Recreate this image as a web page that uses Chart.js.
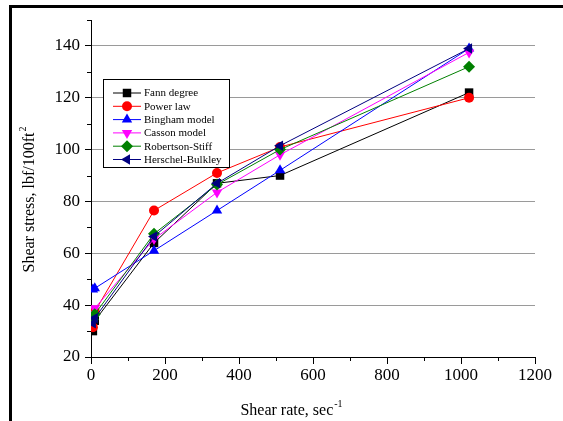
<!DOCTYPE html>
<html lang="en">
<head>
    <meta charset="UTF-8">
    <title>Shear stress vs shear rate</title>
    <script src="https://cdn.jsdelivr.net/npm/chart.js"></script>
    <style>
        html, body { margin: 0; padding: 0; background: #fff; }
        #wrap { position: relative; width: 563px; height: 421px; }
        #frame {
            position: absolute; left: 9px; top: 5px; right: 0; bottom: 0;
            border-left: 3px solid #000; border-top: 3px solid #000;
            pointer-events: none;
        }
    </style>
</head>
<body>
    <div id="wrap">
        <canvas id="rheoChart" width="563" height="421"></canvas>
        <div id="frame"></div>
    </div>

    <script>
        // shear rates (sec^-1) from the Fann speeds 3, 6, 100, 200, 300, 600 rpm
        const shearRates = [5.11, 10.22, 170.3, 340.6, 510.9, 1021.8];

        const fannDegree = [30, 34, 64, 87, 90, 122];
        const powerLaw = [31.5, 37.5, 76.5, 91, 101, 120];
        const bingham = [46, 46.5, 61, 76.5, 92, 139];
        const casson = [36.5, 38.8, 65.5, 83.5, 98, 137.5];
        const robertsonStiff = [34.5, 36.5, 67.5, 86.5, 100, 132];
        const herschelBulkley = [33, 35, 66.5, 87, 101.5, 139];

        const seriesNames = ['Fann degree', 'Power law', 'Bingham model', 'Casson model', 'Robertson-Stiff', 'Herschel-Bulkley'];
        const seriesValues = [fannDegree, powerLaw, bingham, casson, robertsonStiff, herschelBulkley];

        const xTicks = [0, 200, 400, 600, 800, 1000, 1200];
        const xMinorTicks = [100, 300, 500, 700, 900, 1100];
        const yTicks = [20, 40, 60, 80, 100, 120, 140];
        const yMinorTicks = [30, 50, 70, 90, 110, 130, 150];

        const colors = ['#000000', '#ff0000', '#0000ff', '#ff00ff', '#008000', '#000080'];
        const markers = [
            { style: 'rect', rotation: 0, radius: 6 },
            { style: 'circle', rotation: 0, radius: 5 },
            { style: 'triangle', rotation: 0, radius: 6 },
            { style: 'triangle', rotation: 180, radius: 6 },
            { style: 'rectRot', rotation: 0, radius: 6 },
            { style: 'triangle', rotation: 270, radius: 6 }
        ];

        const serif = '"Liberation Serif", "Times New Roman", serif';

        // small marker painter, used for the legend
        function drawMarker(ctx, m, color, x, y) {
            const r = m.radius;
            ctx.save();
            ctx.translate(x, y);
            ctx.rotate(m.rotation * Math.PI / 180);
            ctx.fillStyle = color;
            ctx.beginPath();
            if (m.style === 'circle') {
                ctx.arc(0, 0, r, 0, Math.PI * 2);
            } else if (m.style === 'rect') {
                const s = r * Math.SQRT1_2;
                ctx.rect(-s, -s, 2 * s, 2 * s);
            } else if (m.style === 'rectRot') {
                ctx.moveTo(0, -r); ctx.lineTo(r, 0); ctx.lineTo(0, r); ctx.lineTo(-r, 0);
                ctx.closePath();
            } else {
                // triangle pointing up before rotation
                const edge = 3 * r / Math.sqrt(3);
                const h = edge * Math.sqrt(3) / 2;
                ctx.moveTo(-edge / 2, h / 3);
                ctx.lineTo(edge / 2, h / 3);
                ctx.lineTo(0, -2 * h / 3);
                ctx.closePath();
            }
            ctx.fill();
            ctx.restore();
        }

        const extrasPlugin = {
            id: 'extras',
            afterDraw(chart) {
                const ctx = chart.ctx;
                const xs = chart.scales.x;
                const ys = chart.scales.y;
                const area = chart.chartArea;

                // minor ticks
                ctx.save();
                ctx.strokeStyle = '#000';
                ctx.lineWidth = 1;
                ctx.beginPath();
                xMinorTicks.forEach(v => {
                    const px = Math.round(xs.getPixelForValue(v)) + 0.5;
                    ctx.moveTo(px, area.bottom);
                    ctx.lineTo(px, area.bottom + 4);
                });
                yMinorTicks.forEach(v => {
                    const py = Math.round(ys.getPixelForValue(v)) + 0.5;
                    ctx.moveTo(area.left, py);
                    ctx.lineTo(area.left - 4, py);
                });
                ctx.stroke();
                ctx.restore();

                // axis titles with superscripts
                ctx.save();
                ctx.fillStyle = '#000';
                ctx.textBaseline = 'alphabetic';
                const xt = 'Shear rate, sec';
                const xsup = '-1';
                ctx.font = '16px ' + serif;
                const w1 = ctx.measureText(xt).width;
                ctx.font = '10px ' + serif;
                const w2 = ctx.measureText(xsup).width;
                let sx = 291 - (w1 + w2) / 2;
                ctx.font = '16px ' + serif;
                ctx.fillText(xt, sx, 415);
                ctx.font = '10px ' + serif;
                ctx.fillText(xsup, sx + w1 + 1, 407);

                ctx.translate(34, 200);
                ctx.rotate(-Math.PI / 2);
                const yt = 'Shear stress, lbf/100ft';
                const ysup = '2';
                ctx.font = '16px ' + serif;
                const w3 = ctx.measureText(yt).width;
                ctx.font = '10px ' + serif;
                const w4 = ctx.measureText(ysup).width;
                sx = -(w3 + w4) / 2;
                ctx.font = '16px ' + serif;
                ctx.fillText(yt, sx, 0);
                ctx.font = '10px ' + serif;
                ctx.fillText(ysup, sx + w3 + 1, -8);
                ctx.restore();

                // legend box
                ctx.save();
                ctx.fillStyle = '#fff';
                ctx.strokeStyle = '#000';
                ctx.lineWidth = 1;
                ctx.fillRect(103, 79, 126, 88);
                ctx.strokeRect(103.5, 79.5, 126, 88);
                ctx.font = '11px ' + serif;
                ctx.textBaseline = 'middle';
                chart.data.datasets.forEach((ds, i) => {
                    const y = 93 + i * 13.3;
                    ctx.strokeStyle = colors[i];
                    ctx.beginPath();
                    ctx.moveTo(113, y);
                    ctx.lineTo(141, y);
                    ctx.stroke();
                    drawMarker(ctx, markers[i], colors[i], 127, y);
                    ctx.fillStyle = '#000';
                    ctx.fillText(ds.label, 144, y + 0.5);
                });
                ctx.restore();
            }
        };

        const datasets = seriesNames.map((name, i) => ({
            label: name,
            data: shearRates.map((x, j) => ({ x: x, y: seriesValues[i][j] })),
            borderColor: colors[i],
            backgroundColor: colors[i],
            borderWidth: 1,
            pointStyle: markers[i].style,
            rotation: markers[i].rotation,
            pointRadius: markers[i].radius,
            pointBorderWidth: 0,
            showLine: true,
            tension: 0,
            order: seriesNames.length - 1 - i
        }));

        new Chart(document.getElementById('rheoChart').getContext('2d'), {
            type: 'scatter',
            data: { datasets: datasets },
            plugins: [extrasPlugin],
            options: {
                responsive: false,
                animation: false,
                layout: { padding: { left: 11, top: 20, right: 28, bottom: 0 } },
                plugins: { legend: { display: false }, tooltip: { enabled: false } },
                scales: {
                    x: {
                        type: 'linear',
                        min: 0,
                        max: 1200,
                        afterBuildTicks(scale) { scale.ticks = xTicks.map(v => ({ value: v })); },
                        afterFit(scale) { scale.height = 64; },
                        grid: { drawOnChartArea: false, tickColor: '#000', tickLength: 7 },
                        border: { color: '#000', width: 1 },
                        ticks: {
                            color: '#000', font: { family: serif, size: 17 }, padding: 1, maxRotation: 0,
                            callback: v => String(v)
                        }
                    },
                    y: {
                        type: 'linear',
                        min: 20,
                        max: 150,
                        afterBuildTicks(scale) { scale.ticks = yTicks.map(v => ({ value: v })); },
                        afterFit(scale) { scale.width = 80; },
                        grid: { color: '#9a9a9a', lineWidth: 1, tickColor: '#000', tickLength: 6 },
                        border: { color: '#000', width: 1 },
                        ticks: {
                            color: '#000', font: { family: serif, size: 17 }, padding: 5,
                            callback: v => String(v)
                        }
                    }
                }
            }
        });
    </script>
</body>
</html>
